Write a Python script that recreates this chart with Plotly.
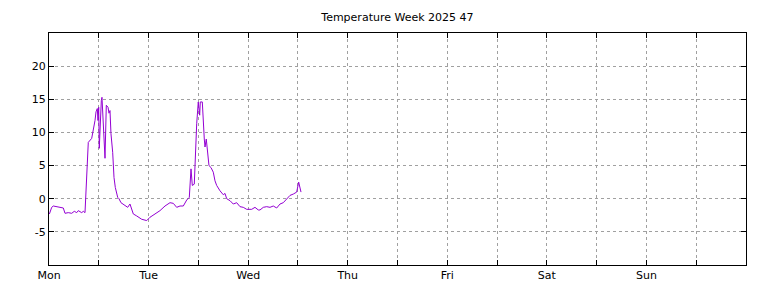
import plotly.graph_objects as go

hours = [0.10, 0.65, 1.04, 1.86, 2.65, 3.45, 3.86, 4.65, 5.47, 6.10, 6.68, 7.06, 7.88, 8.27, 8.68,
         9.09, 9.47, 10.29, 10.68, 11.09, 11.33, 11.64, 11.81, 11.98, 12.12, 12.36, 12.61, 12.77,
         13.02, 13.26, 13.50, 13.81, 14.22, 14.46, 14.70, 14.94, 15.35, 15.67, 15.98, 16.56, 16.87,
         17.35, 18.32, 18.97, 19.52, 20.32, 21.14, 22.34, 23.55, 24.34, 25.55, 26.75, 27.96, 29.16,
         29.96, 30.78, 31.57, 32.37, 33.19, 33.82, 34.23, 34.54, 35.02, 35.43, 35.60, 35.98, 36.32,
         36.47, 36.95, 37.43, 37.60, 37.91, 38.25, 38.56, 39.05, 39.60, 40.01, 40.42, 41.21, 42.01,
         42.42, 42.83, 43.63, 44.42, 45.24, 46.04, 46.83, 47.65, 48.86, 49.65, 50.45, 50.86, 51.65,
         52.47, 53.27, 54.06, 54.88, 55.68, 56.47, 57.29, 58.09, 58.88, 59.70, 60.18, 60.50, 60.74]
temps = [-2.3, -1.3, -1.1, -1.2, -1.3, -1.4, -2.2, -2.1, -2.2, -1.9, -2.1, -1.8, -2.1, -1.9, -2.1,
         4.7, 8.5, 9.1, 10.3, 11.8, 13.1, 13.6, 11.8, 13.8, 7.6, 12.9, 14.8, 15.3,
         11.8, 10.8, 6.1, 14.1, 13.8, 12.9, 13.3, 9.8, 7.0, 3.2, 1.7, 0.2, 0.0,
         -0.6, -1.1, -1.3, -0.8, -2.3, -2.6, -3.1, -3.3, -2.8, -2.3, -1.8, -1.1, -0.6,
         -0.7, -1.3, -1.1, -1.1, -0.2, 0.2, 4.5, 2.0, 2.2, 11.1, 11.3, 14.6, 12.6,
         14.6, 14.6, 9.0, 7.8, 9.0, 6.8, 5.0, 4.7, 4.0, 2.7, 2.0, 1.2, 0.6,
         0.8, 0.0, -0.3, -0.8, -0.6, -1.2, -1.3, -1.6, -1.6, -1.3, -1.7, -1.7, -1.3,
         -1.2, -1.3, -1.1, -1.4, -0.8, -0.6, -0.05, 0.5, 0.7, 1.0, 2.5, 1.5, 1.0]

day_ticks = [0, 24, 48, 72, 96, 120, 144]
day_labels = ["Mon", "Tue", "Wed", "Thu", "Fri", "Sat", "Sun"]
y_ticks = [-5, 0, 5, 10, 15, 20]

FONT = "DejaVu Sans"

fig = go.Figure()
fig.add_trace(go.Scatter(x=hours, y=temps, mode="lines",
                         line=dict(color="#9400d3", width=1), showlegend=False))

grid = dict(showgrid=True, gridcolor="#a0a0a0", gridwidth=1, griddash="3px,3px")

fig.update_layout(
    width=768, height=288,
    margin=dict(l=49, r=22, t=33, b=23, autoexpand=False),
    paper_bgcolor="white", plot_bgcolor="white",
    title=dict(text="Temperature Week 2025 47", x=0.5175, xanchor="center",
               y=0.94, yanchor="middle", font=dict(family=FONT, size=11, color="black")),
    font=dict(family=FONT, size=11, color="black"),
    xaxis=dict(range=[0, 168], tickvals=day_ticks, ticktext=day_labels,
               ticks="inside", ticklen=5, tickcolor="black",
               showline=True, linecolor="black", linewidth=1, mirror="allticks",
               zeroline=False, automargin=False,
               minor=dict(tickvals=[12, 36, 60, 84, 108, 132, 156], ticks="inside", ticklen=5,
                          tickcolor="black", showgrid=True, gridcolor="#a0a0a0", griddash="3px,3px"),
               **grid),
    yaxis=dict(range=[-10, 25], tickvals=y_ticks, ticktext=[str(v) for v in y_ticks],
               ticks="inside", ticklen=5, tickcolor="black",
               showline=True, linecolor="black", linewidth=1, mirror="allticks",
               zeroline=False, automargin=False, **grid),
)

fig.write_html("out.html")
